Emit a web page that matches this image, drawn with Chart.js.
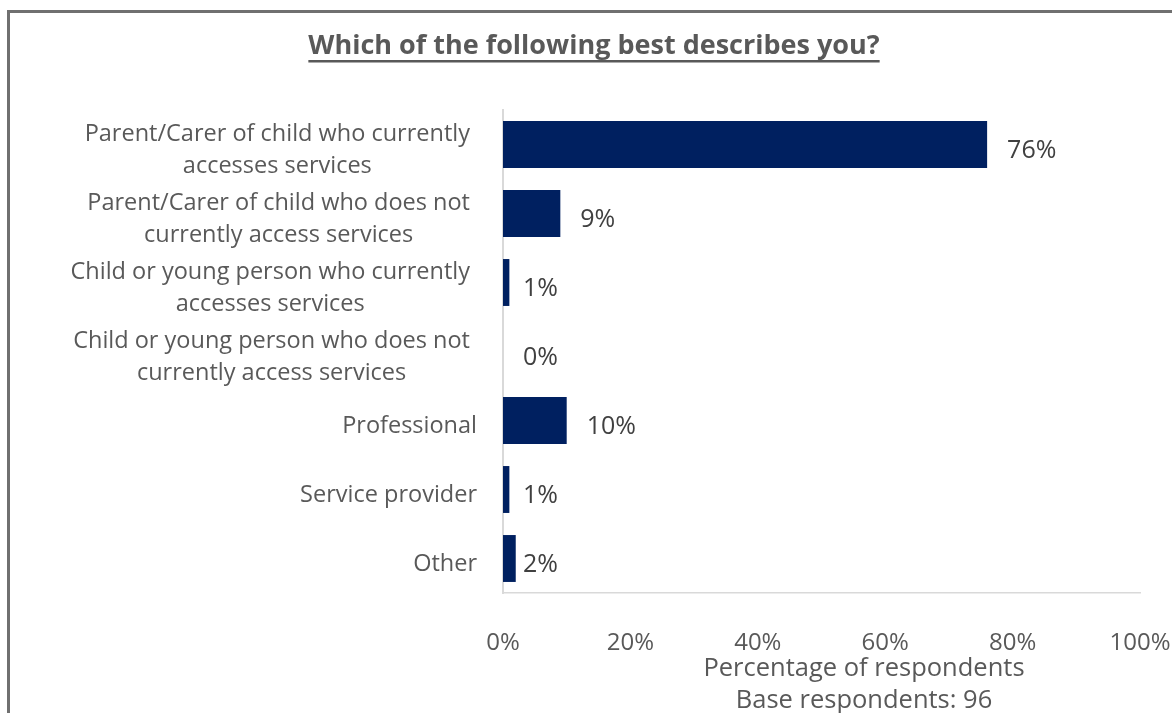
<!DOCTYPE html>
<html>
<head>
<meta charset="utf-8">
<script src="https://cdn.jsdelivr.net/npm/chart.js@4"></script>
<style>
  html, body { margin: 0; padding: 0; background: #fff; overflow: hidden; }
  #wrap { position: relative; width: 1172px; height: 713px; }
  #frame { position: absolute; left: 7px; top: 10px; width: 1200px; height: 760px;
           border: 3px solid #707070; box-sizing: border-box; }
  canvas { position: absolute; left: 0; top: 0; }
</style>
</head>
<body>
<div id="wrap">
  <div id="frame"></div>
  <canvas id="chart" width="1172" height="713"></canvas>
</div>
<script>
// Survey responses: share of respondents in each group
const categories = [
  ["Parent/Carer of child who currently", "accesses services"],
  ["Parent/Carer of child who does not", "currently access services"],
  ["Child or young person who currently", "accesses services"],
  ["Child or young person who does not", "currently access services"],
  ["Professional"],
  ["Service provider"],
  ["Other"]
];
const percentages = [76, 9, 1, 0, 10, 1, 2];
const xTickValues = [0, 20, 40, 60, 80, 100];
const chartTitle = "Which of the following best describes you?";
const axisTitleLines = ["Percentage of respondents", "Base respondents: 96"];

const FONT = "'Open Sans', sans-serif";
const TEXT = "#595959";
const LABEL = "#404040";
const NAVY = "#002060";
const SIZE = 23.5;

const overlay = {
  id: "overlay",
  afterDraw(chart) {
    const ctx = chart.ctx;
    const x = chart.scales.x, y = chart.scales.y;
    ctx.save();

    // title, bold and underlined
    ctx.font = "bold 27px " + FONT;
    ctx.fillStyle = TEXT;
    ctx.textAlign = "center";
    ctx.textBaseline = "middle";
    const tx = 594, ty = 46;
    ctx.fillText(chartTitle, tx, ty);
    const tw = ctx.measureText(chartTitle).width;
    ctx.fillRect(tx - tw / 2, ty + 14, tw, 2.5);

    // category labels, lines centred inside each block
    ctx.font = SIZE + "px " + FONT;
    ctx.fillStyle = TEXT;
    categories.forEach((lines, i) => {
      const cy = y.getPixelForTick(i) + 6;
      const widths = lines.map(l => ctx.measureText(l).width);
      const bw = Math.max(...widths);
      const right = lines.length > 1 ? x.left - 33 : x.left - 26;
      const cx = right - bw / 2;
      const lh = 32;
      lines.forEach((l, k) => {
        ctx.fillText(l, cx, cy + (k - (lines.length - 1) / 2) * lh);
      });
    });

    // value labels beside the bars
    ctx.font = "25px " + FONT;
    ctx.fillStyle = LABEL;
    ctx.textAlign = "left";
    const meta = chart.getDatasetMeta(0);
    meta.data.forEach((bar, i) => {
      const v = percentages[i];
      const zero = x.getPixelForValue(0);
      const lx = v < 5 ? zero + 20 : bar.x + 20;
      ctx.fillText(v + "%", lx, bar.y + 6);
    });

    // axis title below the tick labels
    ctx.font = "25.5px " + FONT;
    ctx.fillStyle = TEXT;
    ctx.textAlign = "center";
    axisTitleLines.forEach((l, k) => {
      ctx.fillText(l, 864, 669 + k * 32);
    });
    ctx.restore();
  }
};

new Chart(document.getElementById("chart"), {
  type: "bar",
  data: {
    labels: categories,
    datasets: [{
      data: percentages,
      backgroundColor: NAVY,
      borderWidth: 0,
      barPercentage: 0.68,
      categoryPercentage: 1.0
    }]
  },
  options: {
    indexAxis: "y",
    responsive: false,
    animation: false,
    layout: { padding: { top: 110, right: 0, left: 0, bottom: 0 } },
    plugins: { legend: { display: false }, tooltip: { enabled: false }, title: { display: false } },
    scales: {
      x: {
        min: 0, max: 100,
        afterBuildTicks(scale) { scale.ticks = xTickValues.map(v => ({ value: v })); },
        afterFit(scale) { scale.height = 120; scale.paddingRight = 32; scale.paddingLeft = 0; },
        grid: { display: false, drawTicks: false },
        border: { display: true, color: "#d9d9d9", width: 1.5 },
        ticks: {
          padding: 36,
          color: TEXT,
          font: { family: FONT, size: 24 },
          callback: v => v + "%",
          maxRotation: 0, autoSkip: false
        }
      },
      y: {
        afterFit(scale) { scale.width = 503; },
        grid: { display: false, drawTicks: false },
        border: { display: true, color: "#d9d9d9", width: 2 },
        ticks: { display: false }
      }
    }
  },
  plugins: [overlay]
});
</script>
</body>
</html>
